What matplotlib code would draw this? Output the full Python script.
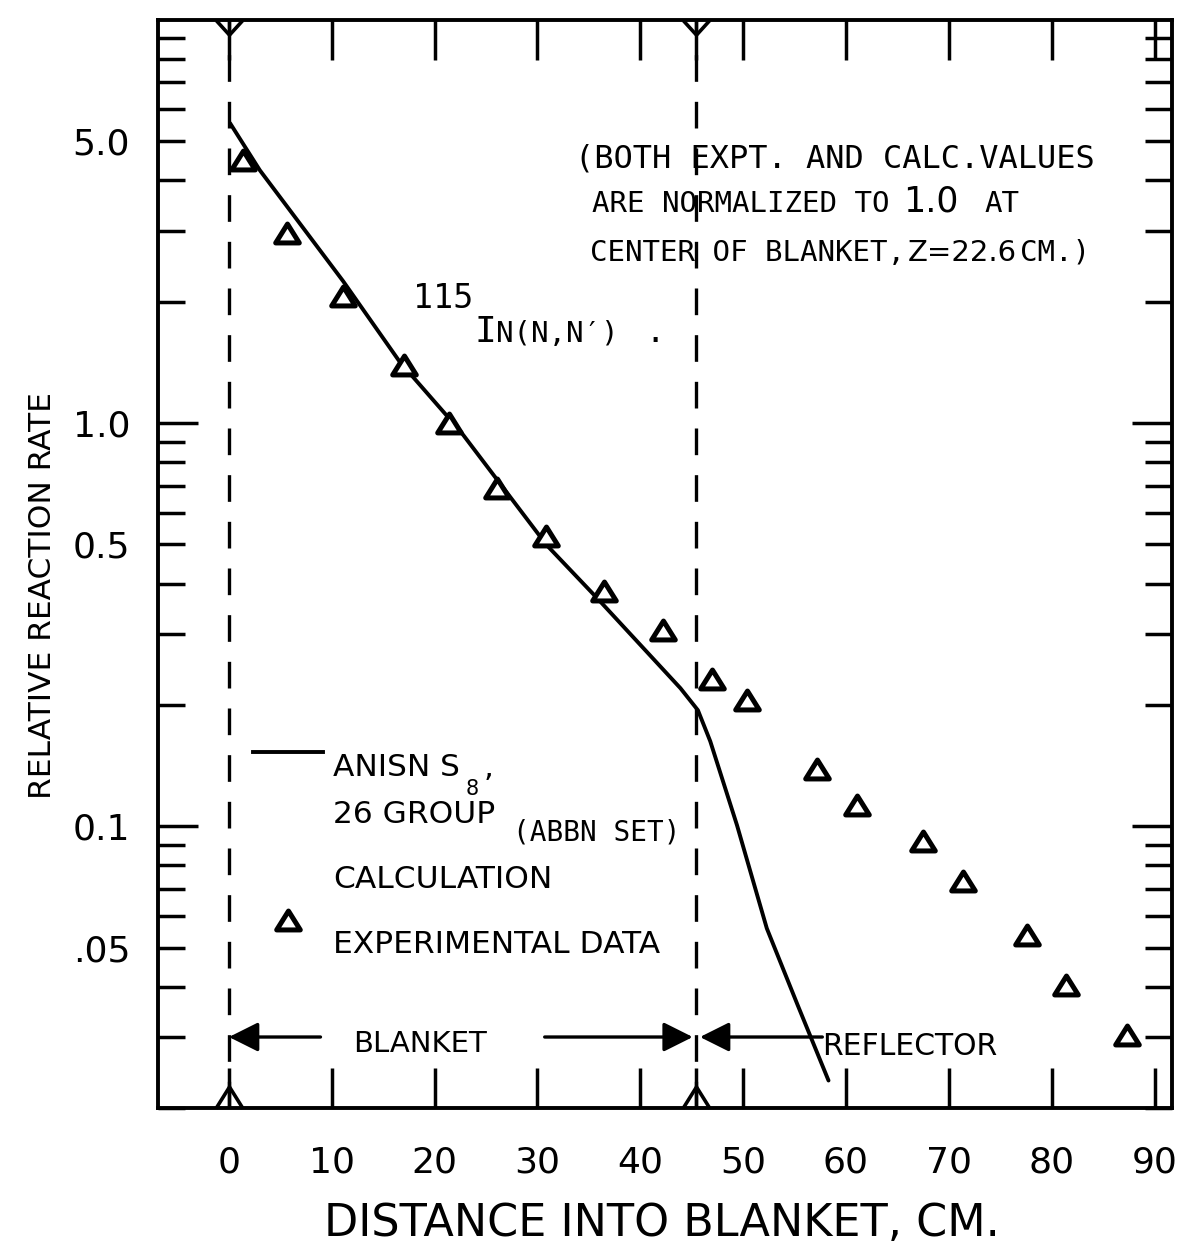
import matplotlib
matplotlib.use('Agg')
import matplotlib.pyplot as plt
from matplotlib.lines import Line2D
from matplotlib.path import Path
from matplotlib.ticker import FixedLocator, FuncFormatter
from matplotlib.transforms import IdentityTransform

# experimental data (distance into blanket in cm, relative reaction rate)
expt_z = [1.4, 5.6, 11.1, 17.0, 21.4, 26.1, 30.8, 36.5, 42.2,
          47.0, 50.4, 57.2, 61.1, 67.5, 71.4, 77.6, 81.4, 87.3]
expt_rate = [4.49, 2.96, 2.07, 1.39, 1.0, 0.69, 0.524, 0.383, 0.306,
             0.232, 0.206, 0.139, 0.113, 0.092, 0.073, 0.0536, 0.0403, 0.0303]

# ANISN S8, 26 group calculation
calc_z = [0.1, 3.0, 11.1, 16.6, 22.5, 30.9, 35.8, 43.9, 45.6,
          46.8, 49.4, 52.3, 55.3, 58.3]
calc_rate = [5.55, 4.24, 2.25, 1.42, 0.955, 0.498, 0.368, 0.220, 0.194,
             0.1625, 0.1006, 0.0558, 0.0360, 0.0234]

blanket_front = 0.0
blanket_back = 45.4
region_arrow_rate = 0.030

x_ticks = [0, 10, 20, 30, 40, 50, 60, 70, 80, 90]
y_major = [0.1, 1.0]
y_minor = [0.02, 0.03, 0.04, 0.05, 0.06, 0.07, 0.08, 0.09,
           0.2, 0.3, 0.4, 0.5, 0.6, 0.7, 0.8, 0.9,
           2, 3, 4, 5, 6, 7, 8, 9]
y_label_vals = [5.0, 1.0, 0.5, 0.1, 0.05]
y_label_txt = ['5.0', '1.0', '0.5', '0.1', '.05']

SANS = 'DejaVu Sans'
MONO = 'DejaVu Sans Mono'

W, H = 1177, 1252
fig = plt.figure(figsize=(W / 100, H / 100), dpi=100)
fig.patch.set_facecolor('white')
ax = fig.add_axes([158 / W, 1 - 1108 / H, (1172 - 158) / W, (1108 - 20) / H])

ax.set_yscale('log')
ax.set_xlim(-6.9, 91.7)
ax.set_ylim(0.02, 10)

TRI = Path([(-1, -0.8), (0, 0.8), (1, -0.8), (-1, -0.8)], closed=True)
TOP_V = Path([(-1, 0), (0, -1.1), (1, 0)])
BOT_V = Path([(-1, 0), (0, 1.6), (1, 0)])

ax.plot(calc_z, calc_rate, color='black', lw=2.8, solid_capstyle='round')
ax.plot(expt_z, expt_rate, ls='none', marker=TRI, ms=17, mew=3.6,
        mfc='white', mec='black')

for xb in (blanket_front, blanket_back):
    ax.axvline(xb, color='black', lw=2.4, ls=(0, (8, 6)))
ax.plot([blanket_front, blanket_back], [10, 10], ls='none', marker=TOP_V,
        ms=21, mew=2.6, mfc='none', mec='black', clip_on=False)
ax.plot([blanket_front, blanket_back], [0.02, 0.02], ls='none', marker=BOT_V,
        ms=31, mew=2.6, mfc='none', mec='black', clip_on=False)

# region arrows
arr = dict(arrowstyle='-|>,head_length=0.6,head_width=0.3', lw=2.4,
           color='black', mutation_scale=30, shrinkA=0, shrinkB=0)
ax.annotate('', xy=(blanket_front, region_arrow_rate), xytext=(8.9, region_arrow_rate), arrowprops=arr)
ax.annotate('', xy=(blanket_back - 0.3, region_arrow_rate), xytext=(30.7, region_arrow_rate), arrowprops=arr)
ax.annotate('', xy=(blanket_back + 0.4, region_arrow_rate), xytext=(57.7, region_arrow_rate), arrowprops=arr)

# axes styling
for s in ax.spines.values():
    s.set_linewidth(2.8)
ax.xaxis.set_major_locator(FixedLocator(x_ticks))
ax.xaxis.set_minor_locator(FixedLocator([blanket_back]))
ax.yaxis.set_major_locator(FixedLocator(y_major))
ax.yaxis.set_minor_locator(FixedLocator(y_minor))


def ylab(v, pos):
    for val, txt in zip(y_label_vals, y_label_txt):
        if abs(v - val) < 1e-6 * val:
            return txt
    return ''


ax.yaxis.set_major_formatter(FuncFormatter(ylab))
ax.yaxis.set_minor_formatter(FuncFormatter(ylab))
ax.xaxis.set_minor_formatter(FuncFormatter(lambda v, p: ''))

ax.tick_params(axis='x', which='both', direction='in', top=True, bottom=True,
               length=29, width=2.5, pad=27, labelsize=26)
ax.tick_params(axis='y', which='major', direction='in', left=True, right=True,
               length=29, width=2.5, pad=20, labelsize=26)
ax.tick_params(axis='y', which='minor', direction='in', left=True, right=True,
               length=19.5, width=2.5, pad=20, labelsize=26)

renderer = fig.canvas.get_renderer()


def put(x, y, s, size, fam, **kw):
    return fig.text(x, H - y, s, fontsize=size, family=fam,
                    transform=IdentityTransform(), va='baseline', **kw)


def chain(x, y, pieces):
    for s, size, fam, gap in pieces:
        x += gap
        t = put(x, y, s, size, fam)
        x += t.get_window_extent(renderer).width


# note
put(575, 168, '(BOTH EXPT. AND CALC.VALUES', 23, MONO)
chain(592, 212, [('ARE NORMALIZED TO', 21, MONO, 0), ('1.0', 25, SANS, 14),
                 ('AT', 21, MONO, 26)])
chain(590, 261, [('CENTER OF BLANKET,', 21, MONO, 0), ('Z=22.6', 21, SANS, 3),
                 ('CM.)', 21, MONO, 3)])

# reaction label
put(413, 308, '115', 24, MONO)
chain(474, 342, [('I', 26, MONO, 0), ('N(N,N\u2032)', 21, MONO, 0)])
put(645, 342, '.', 23, MONO)

# legend
fig.add_artist(Line2D([253, 323], [H - 752, H - 752], transform=IdentityTransform(),
                      color='black', lw=2.8))
fig.add_artist(Line2D([288], [H - 920], transform=IdentityTransform(), ls='none',
                      marker=TRI, ms=17, mew=3.6, mfc='white', mec='black'))
put(333, 776, 'ANISN S', 22.5, SANS)
put(466, 795, '8', 15, SANS)
put(484, 776, ',', 22.5, SANS)
put(333, 823, '26 GROUP', 22.5, SANS)
put(513, 840, '(ABBN SET)', 20, MONO)
put(333, 888, 'CALCULATION', 22.5, SANS)
put(333, 953, 'EXPERIMENTAL DATA', 22.5, SANS)

put(353, 1052, 'BLANKET', 21, SANS)
put(822, 1055, 'REFLECTOR', 21.5, SANS)

put(662, 1236, 'DISTANCE INTO BLANKET, CM.', 32, SANS, ha='center')
fig.text(43, H - 596, 'RELATIVE REACTION RATE', fontsize=22.5, family=SANS,
         rotation=90, ha='center', va='center', transform=IdentityTransform())

fig.savefig('out.png', dpi=100, facecolor='white')
